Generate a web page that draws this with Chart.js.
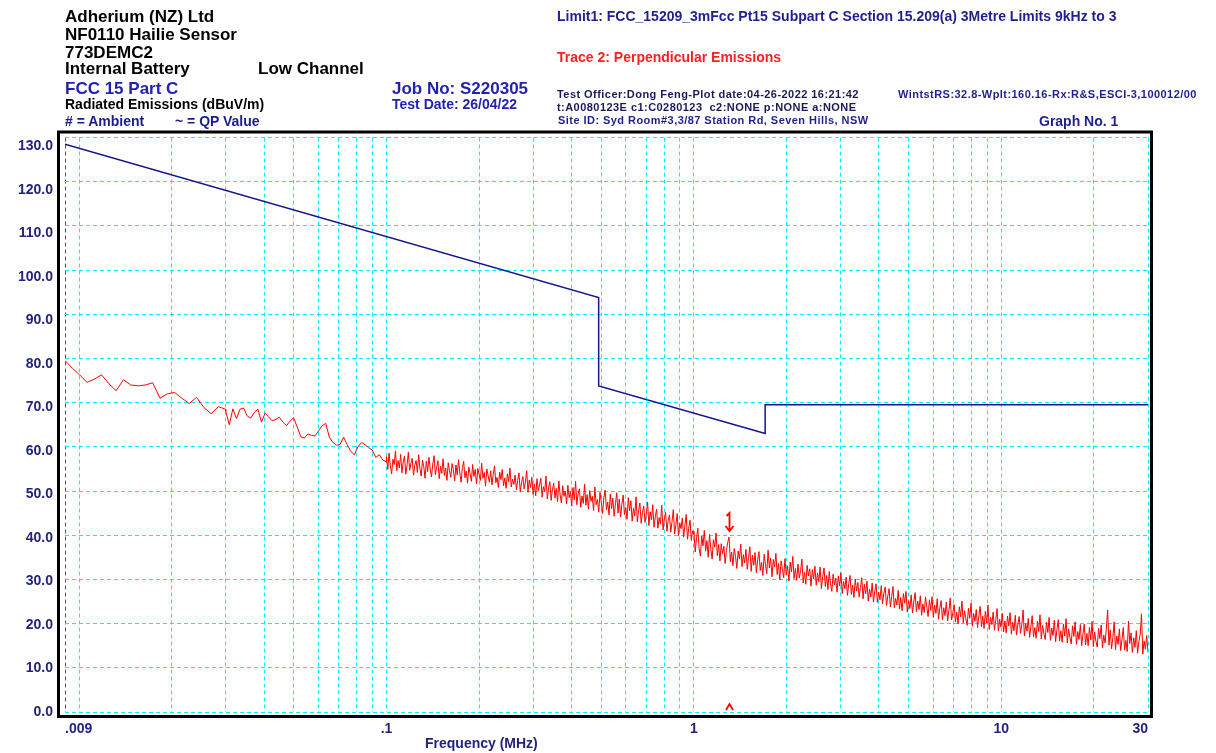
<!DOCTYPE html>
<html>
<head>
<meta charset="utf-8">
<script src="https://cdn.jsdelivr.net/npm/chart.js@4.4.1/dist/chart.umd.min.js"></script>
<style>
body { margin: 0; background: #fff; }
#wrap { position: relative; width: 1216px; height: 753px; font-family: "Liberation Sans", Arial, sans-serif; font-weight: bold; }
#wrap canvas { position: absolute; left: 0; top: 0; }
.t { position: absolute; white-space: nowrap; line-height: 1; }
.s { font-size: 11px; letter-spacing: 0.45px; }
</style>
</head>
<body>
<div id="wrap">
<canvas id="emiChart" width="1216" height="753"></canvas>

<div class="t" style="left:65px;top:7.5px;font-size:17px;color:#000">Adherium (NZ) Ltd</div>
<div class="t" style="left:65px;top:25.5px;font-size:17px;color:#000">NF0110 Hailie Sensor</div>
<div class="t" style="left:65px;top:43.5px;font-size:17px;color:#000">773DEMC2</div>
<div class="t" style="left:65px;top:60px;font-size:17px;color:#000">Internal Battery</div>
<div class="t" style="left:258px;top:60px;font-size:17px;color:#000">Low Channel</div>
<div class="t" style="left:65px;top:79.5px;font-size:17px;color:#2222b0">FCC 15 Part C</div>
<div class="t" style="left:65px;top:97px;font-size:14px;color:#000">Radiated Emissions (dBuV/m)</div>
<div class="t" style="left:65px;top:113.5px;font-size:14px;color:#1c1c8c"># = Ambient</div>
<div class="t" style="left:175px;top:113.5px;font-size:14px;color:#1c1c8c">~ = QP Value</div>
<div class="t" style="left:392px;top:79.5px;font-size:17px;color:#2222b0">Job No: S220305</div>
<div class="t" style="left:392px;top:97px;font-size:14px;color:#2222b0">Test Date: 26/04/22</div>

<div class="t" style="left:557px;top:9px;font-size:14px;color:#1f1f8f">Limit1: FCC_15209_3mFcc Pt15 Subpart C Section 15.209(a) 3Metre Limits 9kHz to 3</div>
<div class="t" style="left:557px;top:49.5px;font-size:14px;color:#ff2020">Trace 2: Perpendicular Emissions</div>
<div class="t s" style="left:557px;top:89px;color:#1a1a5a">Test Officer:Dong Feng-Plot date:04-26-2022 16:21:42</div>
<div class="t s" style="left:898px;top:89px;color:#1f1f8f">WintstRS:32.8-Wplt:160.16-Rx:R&amp;S,ESCI-3,100012/00</div>
<div class="t s" style="left:557px;top:101.5px;color:#1a1a5a">t:A0080123E c1:C0280123&nbsp; c2:NONE p:NONE a:NONE</div>
<div class="t s" style="left:558px;top:114.5px;color:#1f1f8f">Site ID: Syd Room#3,3/87 Station Rd, Seven Hills, NSW</div>
<div class="t" style="left:1039px;top:113.5px;font-size:14px;color:#1f1f8f">Graph No. 1</div>

<div class="t" style="left:425px;top:736px;font-size:14px;color:#23237f">Frequency (MHz)</div>
</div>

<script>
// sweep segments of trace 2 (MHz) - levels (dBuV/m)
const segStart = [0.009, 0.03, 0.1, 1];
const segStop = [0.03, 0.1, 1, 30];

const traceA = [79.5, 77.8, 76.3, 74.6, 75.3, 76.3, 74.3, 72.7, 75.2, 74.0,
    73.8, 74.0, 74.5, 71.0, 72.0, 72.3, 71.0, 69.8, 71.2, 68.9,
    67.5, 69.1, 68.5];

const traceB = [68.0, 65.0, 68.6, 66.4, 68.5, 68.8, 67.0, 66.5, 67.8, 68.5,
    65.6, 67.6, 66.8, 65.9, 66.2, 66.7, 65.6, 64.8, 65.8, 66.6,
    64.5, 62.3, 62.0, 62.9, 62.6, 62.5, 63.6, 64.8, 65.3, 62.2,
    61.0, 60.4, 60.5, 62.2, 60.5, 59.0, 58.2, 60.0, 61.0, 60.5,
    59.8, 59.3, 57.6, 58.2, 57.0, 56.6];

const traceC = [57.8, 54.9, 58.6, 55.7, 53.9, 57.2, 56.0, 59.1, 54.6, 56.9,
    55.2, 58.3, 54.1, 56.6, 57.9, 53.8, 55.9, 58.8, 54.7, 56.3,
    57.4, 53.6, 55.8, 56.9, 54.2, 58.2, 55.1, 53.4, 57.0, 55.5,
    52.9, 56.8, 54.4, 57.6, 55.0, 53.2, 56.1, 58.0, 53.7, 55.4,
    56.9, 52.8, 55.6, 54.0, 57.3, 53.5, 55.2, 52.4, 56.4, 54.6,
    53.1, 56.2, 54.8, 52.3, 55.9, 53.6, 57.1, 54.1, 52.0, 55.3,
    56.7, 53.0, 54.5, 51.8, 55.4, 53.9, 52.2, 56.0, 53.3, 54.9,
    51.6, 55.1, 53.7, 52.4, 56.3, 52.9, 54.2, 51.1, 55.0, 53.5,
    52.0, 54.6, 51.4, 53.8, 55.7, 51.9, 53.1, 50.8, 54.3, 52.6,
    54.9, 51.2, 53.0, 50.6, 53.9, 52.1, 55.2, 50.9, 52.7, 51.5,
    53.6, 50.3, 52.4, 54.1, 49.8, 51.9, 53.3, 50.5, 52.0, 54.6,
    49.7, 52.5, 50.8, 53.1, 49.2, 51.6, 48.9, 52.8, 50.1, 51.4,
    52.9, 48.6, 51.0, 49.9, 53.4, 48.2, 50.7, 52.1, 47.9, 50.3,
    51.8, 48.4, 50.6, 47.6, 52.3, 49.1, 47.3, 51.2, 48.8, 50.0,
    47.1, 51.3, 48.5, 49.9, 46.6, 50.8, 48.0, 52.2, 46.9, 49.4,
    50.5, 46.3, 48.9, 47.2, 51.6, 46.8, 49.2, 45.9, 50.1, 47.7,
    48.8, 45.6, 50.9, 46.9, 48.1, 45.2, 49.7, 47.4, 44.9, 48.6,
    50.2, 45.8, 47.5, 44.6, 49.3, 46.0, 48.4, 44.3, 47.1, 49.6,
    45.0, 48.2, 44.1, 47.0, 49.1, 44.7, 46.3, 43.6, 48.5, 45.5,
    47.8, 43.2, 46.1, 44.4, 48.7, 43.0, 45.6, 47.3, 42.7, 45.1,
    46.6, 42.9, 44.8, 47.5, 42.2, 45.3, 43.5, 46.9, 41.8, 44.2,
    45.9, 41.6, 44.0, 42.5, 46.8, 41.2, 43.7, 45.2, 40.9, 43.3,
    44.6, 40.7, 43.1, 45.8, 40.3, 42.4, 44.9, 39.9, 42.8, 41.5,
    43.9, 39.6, 42.2, 44.7, 39.1, 41.6, 43.4, 38.8, 41.0, 40.2];

const traceD = [40.9, 36.2, 39.4, 41.6, 37.0, 35.3, 39.9, 37.6, 41.1, 36.4,
    38.8, 35.0, 40.2, 36.9, 34.6, 39.0, 37.3, 40.5, 35.4, 37.9,
    34.2, 38.1, 35.8, 37.5, 33.6, 36.6, 38.4, 39.6, 34.0, 36.2,
    33.1, 37.0, 35.2, 32.5, 36.4, 34.6, 38.0, 32.9, 35.6, 33.7,
    36.8, 32.3, 34.9, 37.4, 31.8, 35.5, 33.2, 36.1, 31.5, 34.4,
    36.3, 32.0, 33.9, 30.9, 35.7, 33.4, 31.3, 36.6, 32.6, 34.8,
    30.6, 34.5, 32.8, 35.9, 31.1, 33.6, 29.9, 34.2, 32.3, 30.4,
    34.7, 31.0, 33.1, 29.6, 33.9, 31.7, 35.2, 30.2, 32.5, 29.8,
    33.5, 30.3, 32.0, 34.6, 29.2, 31.6, 28.9, 33.2, 30.8, 32.4,
    28.5, 32.2, 30.1, 33.0, 28.7, 31.4, 29.5, 32.8, 27.9, 30.6,
    32.6, 28.4, 30.9, 27.7, 31.8, 29.0, 27.3, 31.2, 28.8, 30.3,
    27.1, 30.8, 28.5, 31.5, 26.8, 29.6, 27.9, 30.5, 26.4, 29.0,
    30.9, 26.6, 28.7, 25.9, 30.1, 27.4, 29.3, 26.0, 28.2, 30.4,
    25.6, 28.9, 26.7, 29.6, 25.1, 27.8, 26.0, 29.2, 24.9, 27.3,
    29.0, 24.8, 27.1, 25.4, 28.6, 24.5, 26.9, 28.3, 24.1, 26.2,
    27.9, 23.8, 26.1, 28.4, 23.6, 25.7, 24.2, 27.5, 23.3, 25.9,
    22.9, 26.8, 24.6, 27.3, 22.6, 25.2, 23.4, 26.5, 22.4, 24.9,
    27.0, 22.7, 25.1, 23.2, 26.3, 21.9, 24.4, 22.5, 26.0, 23.8,
    21.6, 25.4, 23.0, 26.1, 21.4, 24.2, 22.3, 25.6, 21.0, 23.5,
    25.2, 20.9, 23.6, 21.8, 24.9, 20.6, 23.1, 25.8, 20.8, 22.4,
    24.3, 20.4, 22.6, 19.9, 23.8, 21.5, 25.1, 20.2, 22.9, 21.1,
    19.6, 23.5, 21.2, 24.6, 19.4, 22.3, 20.5, 23.2, 19.1, 21.8,
    23.9, 19.3, 21.7, 18.9, 22.8, 20.1, 24.2, 18.7, 21.4, 19.8,
    22.6, 18.5, 20.9, 23.4, 18.3, 21.0, 19.2, 22.3, 18.1, 20.6,
    17.9, 21.7, 19.5, 22.5, 17.6, 20.3, 18.4, 21.9, 17.4, 19.9,
    21.6, 17.8, 19.7, 23.1, 17.2, 20.0, 18.3, 21.2, 16.9, 19.4,
    21.8, 17.0, 19.1, 16.7, 20.6, 18.2, 22.0, 16.5, 19.6, 17.7,
    16.4, 20.3, 18.0, 21.4, 16.2, 19.0, 17.3, 20.8, 15.9, 18.6,
    20.9, 16.1, 18.4, 15.8, 19.9, 17.2, 21.1, 15.6, 18.8, 16.9,
    15.4, 19.5, 17.1, 20.4, 15.3, 18.2, 16.4, 19.8, 15.0, 17.6,
    19.9, 15.2, 17.8, 15.0, 19.2, 16.3, 20.5, 14.8, 18.1, 16.0,
    14.7, 18.9, 16.6, 19.7, 14.5, 17.4, 15.6, 19.0, 23.1, 15.1,
    18.6, 14.3, 16.9, 20.4, 14.1, 17.2, 15.3, 18.8, 13.9, 16.4,
    19.1, 14.0, 16.2, 13.7, 20.6, 15.5, 17.9, 13.5, 16.8, 14.6,
    18.4, 13.3, 15.9, 17.6, 22.2, 13.1, 16.1, 14.2, 17.3, 13.6];

// Limit1: FCC 15.209 at 3 m
const limitFreq = [0.009, 0.49, 0.49, 1.705, 1.705, 30];
const limitLevel = [128.5, 93.8, 73.8, 63.0, 69.5, 69.5];

// marker 1
const markerFreq = [1.3];
const markerLevel = [39.6];

// axes
const xGrid = [0.009, 0.01, 0.02, 0.03, 0.04, 0.05, 0.06, 0.07, 0.08, 0.09,
    0.1, 0.2, 0.3, 0.4, 0.5, 0.6, 0.7, 0.8, 0.9,
    1, 2, 3, 4, 5, 6, 7, 8, 9, 10, 20, 30];
const xLabelAt = [0.009, 0.1, 1, 10, 30];
const xLabelText = ['.009', '.1', '1', '10', '30'];
const yGrid = [0, 10, 20, 30, 40, 50, 60, 70, 80, 90, 100, 110, 120, 130];

const navy = '#23237f';
const cyan = '#00f0ff';

function buildTrace() {
    var segs = [traceA, traceB, traceC, traceD];
    var pts = [];
    segs.forEach((levels, s) => {
        let a = segStart[s];
        let b = segStop[s];
        levels.forEach((lv, i) => {
            let f = a * Math.pow(b / a, i / (levels.length - 1));
            pts.push({ x: f, y: lv });
        });
    });
    return pts;
}

// frame round the plot + marker glyphs
const frameAndMarker = {
    id: 'frameAndMarker',
    afterDatasetsDraw(chart) {
        const ctx = chart.ctx;
        const a = chart.chartArea;
        const sx = chart.scales.x;
        const sy = chart.scales.y;
        ctx.save();
        ctx.strokeStyle = '#ff0000';
        ctx.lineWidth = 1.8;
        markerFreq.forEach((f, i) => {
            let x = Math.round(sx.getPixelForValue(f)) + 0.5;
            let y = sy.getPixelForValue(markerLevel[i]);
            ctx.beginPath();
            ctx.moveTo(x - 3, y - 21);
            ctx.lineTo(x, y - 24);
            ctx.lineTo(x, y - 6);
            ctx.moveTo(x - 4, y - 11);
            ctx.lineTo(x, y - 6);
            ctx.lineTo(x + 4, y - 11);
            ctx.stroke();
            ctx.beginPath();
            ctx.moveTo(x - 3.5, a.bottom - 2);
            ctx.lineTo(x, a.bottom - 8);
            ctx.lineTo(x + 3.5, a.bottom - 2);
            ctx.stroke();
        });
        ctx.strokeStyle = '#000';
        ctx.lineWidth = 3;
        ctx.strokeRect(a.left - 6.5, a.top - 5.5, a.right - a.left + 10, a.bottom - a.top + 10);
        ctx.restore();
    }
};

Chart.defaults.font.family = "'Liberation Sans', Arial, sans-serif";

new Chart(document.getElementById('emiChart'), {
    type: 'scatter',
    data: {
        datasets: [{
            label: 'Trace 2',
            data: buildTrace(),
            showLine: true,
            borderColor: '#ff0000',
            borderWidth: 1,
            pointRadius: 0
        }, {
            label: 'Limit1',
            data: limitFreq.map((f, i) => ({ x: f, y: limitLevel[i] })),
            showLine: true,
            borderColor: '#14148c',
            borderWidth: 1.5,
            pointRadius: 0
        }]
    },
    options: {
        responsive: false,
        animation: false,
        layout: { padding: { top: 137.5, right: 68, bottom: 11, left: 0 } },
        plugins: {
            legend: { display: false },
            tooltip: { enabled: false }
        },
        scales: {
            x: {
                type: 'logarithmic',
                position: 'bottom',
                min: 0.009,
                max: 30,
                afterBuildTicks: (axis) => { axis.ticks = xGrid.map(v => ({ value: v })); },
                afterFit: (axis) => { axis.height = 30; },
                ticks: {
                    autoSkip: false,
                    maxRotation: 0,
                    align: 'inner',
                    padding: 9,
                    color: navy,
                    font: { size: 14, weight: 'bold' },
                    callback: function (value) {
                        let i = xLabelAt.indexOf(value);
                        return i >= 0 ? xLabelText[i] : '';
                    }
                },
                grid: {
                    drawTicks: false,
                    lineWidth: 1,
                    color: (c) => (c.tick && c.tick.value === 0.009) ? '#555555' : cyan
                },
                border: { display: false, dash: [4, 3] }
            },
            y: {
                type: 'linear',
                position: 'left',
                min: 0,
                max: 130,
                afterBuildTicks: (axis) => { axis.ticks = yGrid.map(v => ({ value: v })); },
                afterFit: (axis) => { axis.width = 0; },
                ticks: { display: false },
                grid: { drawTicks: false, color: cyan, lineWidth: 1 },
                border: { display: false, dash: [4, 3] }
            },
            yLab: {
                type: 'linear',
                axis: 'y',
                position: 'left',
                min: 0,
                max: 132,
                afterBuildTicks: (axis) => { axis.ticks = yGrid.map(v => ({ value: v })); },
                afterFit: (axis) => { axis.width = 65; },
                ticks: {
                    padding: 12,
                    color: navy,
                    font: { size: 14, weight: 'bold' },
                    callback: (v) => v.toFixed(1)
                },
                grid: { display: false, drawTicks: false },
                border: { display: false }
            }
        }
    },
    plugins: [frameAndMarker]
});
</script>
</body>
</html>
